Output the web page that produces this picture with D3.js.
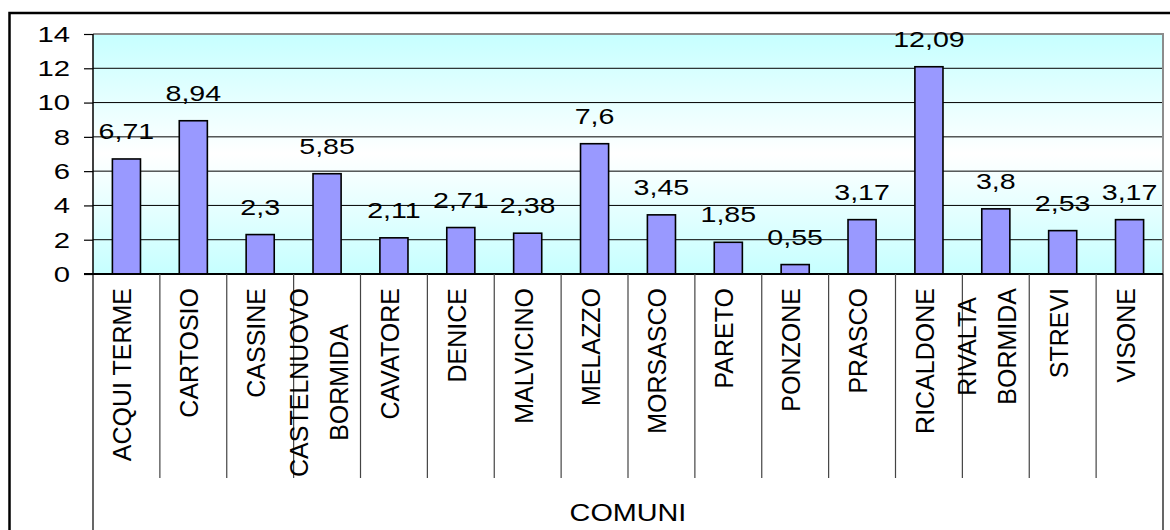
<!DOCTYPE html>
<html><head><meta charset="utf-8">
<script src="https://cdn.jsdelivr.net/npm/d3@7"></script>
<style>
html,body{margin:0;padding:0;background:#fff;}
svg{display:block;font-family:"Liberation Sans",Arial,sans-serif;}
</style></head>
<body><svg id="c" width="1170" height="530"></svg>
<script>
const categories = ["ACQUI TERME","CARTOSIO","CASSINE","CASTELNUOVO\nBORMIDA","CAVATORE","DENICE","MALVICINO","MELAZZO","MORSASCO","PARETO","PONZONE","PRASCO","RICALDONE","RIVALTA\nBORMIDA","STREVI","VISONE"];
const values = [6.71,8.94,2.3,5.85,2.11,2.71,2.38,7.6,3.45,1.85,0.55,3.17,12.09,3.8,2.53,3.17];
const yTicks = [0,2,4,6,8,10,12,14];
const axisTitle = "COMUNI";

const svg = d3.select("#c");
const L = 93, R = 1163, T = 34, B = 274;
const defs = svg.append("defs");
const gr = defs.append("linearGradient").attr("id","bg").attr("x1",0).attr("y1",0).attr("x2",0).attr("y2",1);
gr.append("stop").attr("offset","0%").attr("stop-color","#c6ffff");
gr.append("stop").attr("offset","50%").attr("stop-color","#ffffff");
gr.append("stop").attr("offset","100%").attr("stop-color","#c6ffff");

// outer border
svg.append("rect").attr("x",9.5).attr("y",13).attr("width",1200).attr("height",600)
  .attr("fill","none").attr("stroke","#000").attr("stroke-width",2.5);

const x = d3.scaleBand().domain(categories).range([L,R]).paddingInner(0.58).paddingOuter(0.29);
const xb = d3.scaleBand().domain(categories).range([L,R]).padding(0);
const y = d3.scaleLinear().domain([0,14]).range([B,T]);

svg.append("rect").attr("x",L).attr("y",T).attr("width",R-L).attr("height",B-T).attr("fill","url(#bg)");

// gridlines
svg.append("g").selectAll("line").data(yTicks.filter(t=>t>0 && t<14)).join("line")
  .attr("x1",L).attr("x2",R).attr("y1",d=>y(d)).attr("y2",d=>y(d))
  .attr("stroke","#000").attr("stroke-width",1);
// plot border top/right
svg.append("path").attr("d",`M${L},${y(14)}H${R}V${B}`).attr("fill","none").attr("stroke","#8c8c8c").attr("stroke-width",2);

// bars
svg.append("g").selectAll("rect").data(values).join("rect")
  .attr("x",(d,i)=>x(categories[i])).attr("width",x.bandwidth())
  .attr("y",d=>y(d)).attr("height",d=>B-y(d))
  .attr("fill","#9999ff").attr("stroke","#000").attr("stroke-width",1.6);

// value labels
svg.append("g").selectAll("g").data(values).join("g")
  .attr("transform",(d,i)=>`translate(${x(categories[i])+x.bandwidth()/2},${y(d)-20}) scale(1.3,1)`)
  .append("text").attr("text-anchor","middle").attr("font-size",22).attr("fill","#000")
  .text(d=>String(d).replace(".",","));

// y axis
const yAxis = d3.axisLeft(y).tickValues(yTicks).tickSize(9).tickFormat("");
const ya = svg.append("g").attr("transform",`translate(${L},0)`).call(yAxis);
ya.select(".domain").attr("stroke","#000").attr("stroke-width",1.5).attr("d",`M0,${T}V${B}`);
ya.selectAll(".tick line").attr("stroke","#000").attr("stroke-width",1.2);
svg.append("g").selectAll("g").data(yTicks).join("g")
  .attr("transform",d=>`translate(70,${y(d)+7.8}) scale(1.33,1)`)
  .append("text").attr("text-anchor","end").attr("font-size",22).attr("fill","#000").text(d=>d);

// x axis baseline
svg.append("line").attr("x1",84).attr("x2",R).attr("y1",B).attr("y2",B).attr("stroke","#000").attr("stroke-width",2);

// category dividers
const divs = categories.map(c=>xb(c)).concat([R]);
svg.append("g").selectAll("line").data(divs).join("line")
  .attr("x1",d=>d).attr("x2",d=>d).attr("y1",B)
  .attr("y2",(d,i)=> (i===0||i===divs.length-1) ? 530 : 478)
  .attr("stroke",(d,i)=> (i===0||i===divs.length-1) ? "#000" : "#444").attr("stroke-width",1.2);

// category labels
const lab = svg.append("g").attr("font-size",25).attr("fill","#000");
categories.forEach(c=>{
  const lines = c.split("\n");
  const cx = xb(c)+xb.bandwidth()/2;
  const g = lab.append("g");
  const texts = lines.map(l=>g.append("text").attr("text-anchor","middle").text(l));
  const maxW = d3.max(texts, t=>t.node().getComputedTextLength());
  const cy = 288 + maxW/2;
  const n = lines.length;
  texts.forEach((t,k)=>{
    const off = (k-(n-1)/2)*40;
    const bx = cx + 5 + off - (n>1?4.5:0);
    t.attr("transform",`translate(${bx},${cy}) rotate(-90)`);
  });
});

// axis title
svg.append("g").attr("transform",`translate(${(L+R)/2},${521}) scale(1.2,1)`)
  .append("text").attr("text-anchor","middle").attr("font-size",24).attr("fill","#000").text(axisTitle);
</script></body></html>
